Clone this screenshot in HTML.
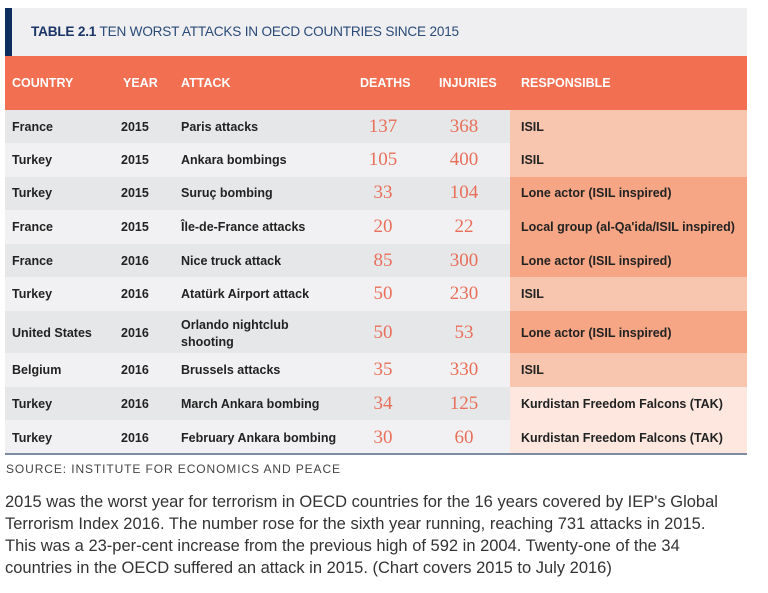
<!DOCTYPE html>
<html><head><meta charset="utf-8"><style>
*{margin:0;padding:0;box-sizing:border-box}
body{width:768px;height:593px;background:#fff;position:relative;overflow:hidden;font-family:"Liberation Sans",sans-serif}
.a{position:absolute;white-space:nowrap}
.title{left:5px;top:8px;width:742px;height:48px;background:#efeff1}
.navy{left:5px;top:8px;width:7px;height:48px;background:#0d2d5e}
.tt{left:31px;top:24px;font-size:13.6px;color:#2a4a78;letter-spacing:-0.2px}
.tt b{color:#1a3566}
.hdr{left:5px;top:56px;width:742px;height:54px;background:#f26f52}
.h{top:76px;font-size:12.5px;font-weight:bold;color:#fff}
.row{left:5px;width:505px}
.resp{left:510px;width:237px}
.c{font-size:12.5px;font-weight:bold;color:#222;position:absolute;white-space:nowrap}
.n{font-family:"Liberation Serif",serif;font-size:19px;color:#e8705a;position:absolute;width:60px;text-align:center}
.line{left:5px;top:453px;width:742px;height:2px;background:#7d8ca2}
.src{left:6px;top:462px;font-size:12px;color:#444;letter-spacing:0.9px}
.p{left:5px;top:491px;font-size:16.5px;line-height:22px;color:#333;width:760px}
</style></head><body>
<div class="a title"></div><div class="a navy"></div>
<div class="a tt"><b>TABLE 2.1</b> TEN WORST ATTACKS IN OECD COUNTRIES SINCE 2015</div>
<div class="a hdr"></div>
<div class="a h" style="left:12px">COUNTRY</div>
<div class="a h" style="left:123px">YEAR</div>
<div class="a h" style="left:181px">ATTACK</div>
<div class="a h" style="left:360px">DEATHS</div>
<div class="a h" style="left:439px">INJURIES</div>
<div class="a h" style="left:521px">RESPONSIBLE</div>

<div class="a row" style="top:110px;height:33px;background:#e6e7e9"></div>
<div class="a row" style="top:143px;height:34px;background:#f1f1f3"></div>
<div class="a row" style="top:177px;height:33px;background:#e6e7e9"></div>
<div class="a row" style="top:210px;height:34px;background:#f1f1f3"></div>
<div class="a row" style="top:244px;height:33px;background:#e6e7e9"></div>
<div class="a row" style="top:277px;height:34px;background:#f1f1f3"></div>
<div class="a row" style="top:311px;height:42px;background:#e6e7e9"></div>
<div class="a row" style="top:353px;height:34px;background:#f1f1f3"></div>
<div class="a row" style="top:387px;height:33px;background:#e6e7e9"></div>
<div class="a row" style="top:420px;height:33px;background:#f1f1f3"></div>

<div class="a resp" style="top:110px;height:67px;background:#f8c5ae"></div>
<div class="a resp" style="top:177px;height:100px;background:#f6a684"></div>
<div class="a resp" style="top:277px;height:34px;background:#f8c5ae"></div>
<div class="a resp" style="top:311px;height:42px;background:#f6a684"></div>
<div class="a resp" style="top:353px;height:34px;background:#f8c5ae"></div>
<div class="a resp" style="top:387px;height:66px;background:#fde7de"></div>

<div class="c" style="left:12px;top:120px">France</div><div class="c" style="left:121px;top:120px">2015</div><div class="c" style="left:181px;top:120px">Paris attacks</div><div class="n" style="left:353px;top:116px">137</div><div class="n" style="left:434px;top:116px">368</div><div class="c" style="left:521px;top:120px">ISIL</div>

<div class="c" style="left:12px;top:153px">Turkey</div><div class="c" style="left:121px;top:153px">2015</div><div class="c" style="left:181px;top:153px">Ankara bombings</div><div class="n" style="left:353px;top:149px">105</div><div class="n" style="left:434px;top:149px">400</div><div class="c" style="left:521px;top:153px">ISIL</div>

<div class="c" style="left:12px;top:186px">Turkey</div><div class="c" style="left:121px;top:186px">2015</div><div class="c" style="left:181px;top:186px">Suruç bombing</div><div class="n" style="left:353px;top:182px">33</div><div class="n" style="left:434px;top:182px">104</div><div class="c" style="left:521px;top:186px">Lone actor (ISIL inspired)</div>

<div class="c" style="left:12px;top:220px">France</div><div class="c" style="left:121px;top:220px">2015</div><div class="c" style="left:181px;top:220px">Île-de-France attacks</div><div class="n" style="left:353px;top:216px">20</div><div class="n" style="left:434px;top:216px">22</div><div class="c" style="left:521px;top:220px">Local group (al-Qa'ida/ISIL inspired)</div>

<div class="c" style="left:12px;top:254px">France</div><div class="c" style="left:121px;top:254px">2016</div><div class="c" style="left:181px;top:254px">Nice truck attack</div><div class="n" style="left:353px;top:250px">85</div><div class="n" style="left:434px;top:250px">300</div><div class="c" style="left:521px;top:254px">Lone actor (ISIL inspired)</div>

<div class="c" style="left:12px;top:287px">Turkey</div><div class="c" style="left:121px;top:287px">2016</div><div class="c" style="left:181px;top:287px">Atatürk Airport attack</div><div class="n" style="left:353px;top:283px">50</div><div class="n" style="left:434px;top:283px">230</div><div class="c" style="left:521px;top:287px">ISIL</div>

<div class="c" style="left:12px;top:326px">United States</div><div class="c" style="left:121px;top:326px">2016</div><div class="c" style="left:181px;top:317px;line-height:17px">Orlando nightclub<br>shooting</div><div class="n" style="left:353px;top:322px">50</div><div class="n" style="left:434px;top:322px">53</div><div class="c" style="left:521px;top:326px">Lone actor (ISIL inspired)</div>

<div class="c" style="left:12px;top:363px">Belgium</div><div class="c" style="left:121px;top:363px">2016</div><div class="c" style="left:181px;top:363px">Brussels attacks</div><div class="n" style="left:353px;top:359px">35</div><div class="n" style="left:434px;top:359px">330</div><div class="c" style="left:521px;top:363px">ISIL</div>

<div class="c" style="left:12px;top:397px">Turkey</div><div class="c" style="left:121px;top:397px">2016</div><div class="c" style="left:181px;top:397px">March Ankara bombing</div><div class="n" style="left:353px;top:393px">34</div><div class="n" style="left:434px;top:393px">125</div><div class="c" style="left:521px;top:397px">Kurdistan Freedom Falcons (TAK)</div>

<div class="c" style="left:12px;top:431px">Turkey</div><div class="c" style="left:121px;top:431px">2016</div><div class="c" style="left:181px;top:431px">February Ankara bombing</div><div class="n" style="left:353px;top:427px">30</div><div class="n" style="left:434px;top:427px">60</div><div class="c" style="left:521px;top:431px">Kurdistan Freedom Falcons (TAK)</div>

<div class="a line"></div>
<div class="a src">SOURCE: INSTITUTE FOR ECONOMICS AND PEACE</div>
<div class="a p">2015 was the worst year for terrorism in OECD countries for the 16 years covered by IEP's Global<br>Terrorism Index 2016. The number rose for the sixth year running, reaching 731 attacks in 2015.<br>This was a 23-per-cent increase from the previous high of 592 in 2004. Twenty-one of the 34<br>countries in the OECD suffered an attack in 2015. (Chart covers 2015 to July 2016)</div>
</body></html>
